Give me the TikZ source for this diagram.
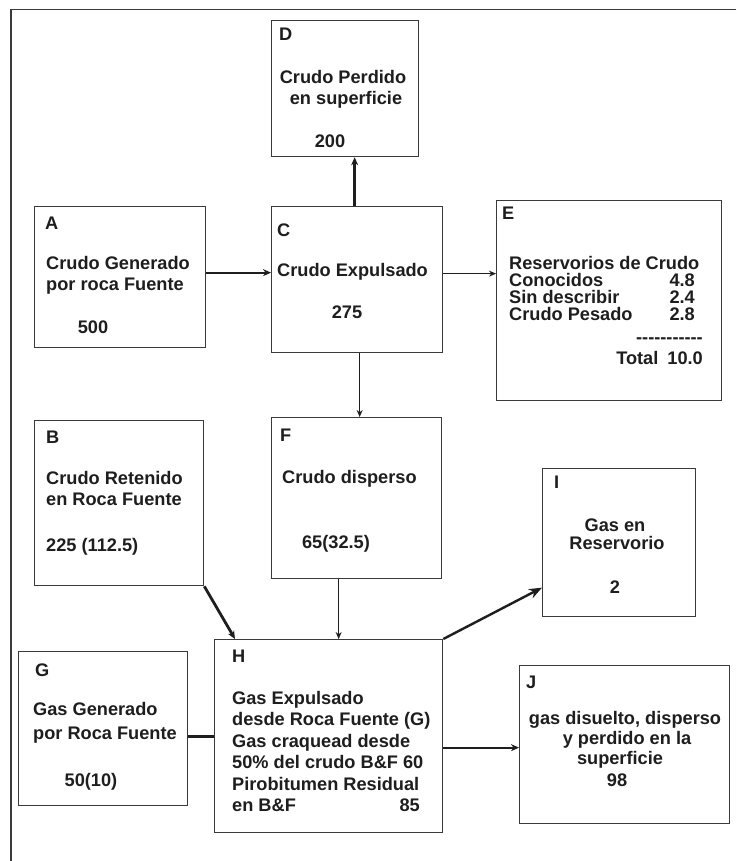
\documentclass[tikz,border=0pt]{standalone}
\usepackage{fontspec}
\setmainfont{Liberation Sans}
\usetikzlibrary{arrows.meta,calc}
\definecolor{ink}{HTML}{1E1E1E}
\definecolor{boxc}{HTML}{3A3A3A}
\newcommand{\hy}{\mbox{-}}
\begin{document}
\begin{tikzpicture}[x=1pt,y=-1pt,
  box/.style={draw=boxc,line width=1.3pt,inner sep=0pt,anchor=north west},
  txt/.style={inner sep=0pt,text=ink,font=\fontsize{18.2}{21}\selectfont\bfseries},
  tw/.style={txt,anchor=base west},
  tc/.style={txt,anchor=base},
  te/.style={txt,anchor=base east},
  thinarr/.style={draw=ink,line width=1.4pt,-{Stealth[length=7pt,width=6pt]}},
  midarr/.style={draw=ink,line width=2pt,-{Stealth[length=8pt,width=7pt]}},
  thickarr/.style={draw=ink,line width=2.8pt,-{Stealth[length=8pt,width=7pt]}},
  bigarr/.style={draw=ink,line width=2.4pt,-{Stealth[length=13pt,width=10pt]}},
  plain/.style={draw=ink,line width=2.4pt}]
\useasboundingbox (0,0) rectangle (736,861);
\fill[white] (0,0) rectangle (736,861);
% outer frame
\draw[boxc,line width=1.5pt] (736,9.5) -- (11,9.5) -- (11,861);
% boxes
\node[box,minimum width=147pt,minimum height=136pt] (D) at (271,20) {};
\node[box,minimum width=171pt,minimum height=141pt] (A) at (34,206) {};
\node[box,minimum width=171pt,minimum height=146pt] (C) at (271,206) {};
\node[box,minimum width=225pt,minimum height=200pt] (E) at (496,200) {};
\node[box,minimum width=169pt,minimum height=165pt] (B) at (34,420) {};
\node[box,minimum width=170pt,minimum height=161pt] (F) at (271,417) {};
\node[box,minimum width=153pt,minimum height=148pt] (I) at (542,468) {};
\node[box,minimum width=169pt,minimum height=154pt] (G) at (18,651) {};
\node[box,minimum width=228pt,minimum height=193pt] (H) at (214,639) {};
\node[box,minimum width=210pt,minimum height=158pt] (J) at (519,665) {};
% D
\node[tw] (dL) at (279,41) {D};
\node[tc] (d1) at (343,84) {Crudo Perdido};
\node[tc] (d2) at (346,105) {en superficie};
\node[tc] (d3) at (330,148) {200};
% A
\node[tw] (aL) at (45,229) {A};
\node[tw] (a1) at (46,269) {Crudo Generado};
\node[tw] (a2) at (46,290) {por roca Fuente};
\node[tc] (a3) at (93,333) {500};
% C
\node[tw] (cL) at (277,236) {C};
\node[tw] (c1) at (277,276) {Crudo Expulsado};
\node[tc] (c2) at (347,318) {275};
% E
\node[tw] (eL) at (502,219) {E};
\node[tw] (e1) at (509,269) {Reservorios de Crudo};
\node[tw] (e2) at (509,286) {Conocidos};
\node[te] (e2v) at (695,286) {4.8};
\node[tw] (e3) at (509,303) {Sin describir};
\node[te] (e3v) at (695,303) {2.4};
\node[tw] (e4) at (509,320) {Crudo Pesado};
\node[te] (e4v) at (695,320) {2.8};
\node[te] (e5) at (703,343) {\hy\hy\hy\hy\hy\hy\hy\hy\hy\hy\hy};
\node[te] (e6) at (703,364) {Total\hspace{9pt}10.0};
% B
\node[tw] (bL) at (46,443) {B};
\node[tw] (b1) at (46,484) {Crudo Retenido};
\node[tw] (b2) at (46,505) {en Roca Fuente};
\node[tw] (b3) at (46,551) {225 (112.5)};
% F
\node[tw] (fL) at (280,441) {F};
\node[tw] (f1) at (282,483) {Crudo disperso};
\node[tc] (f2) at (336,548) {65(32.5)};
% I
\node[tw] (iL) at (554,488) {I};
\node[tc] (i1) at (615,531) {Gas en};
\node[tc] (i2) at (617,549) {Reservorio};
\node[tc] (i3) at (615,593) {2};
% G
\node[tw] (gL) at (35,676) {G};
\node[tw] (g1) at (33,715) {Gas Generado};
\node[tw] (g2) at (33,739) {por Roca Fuente};
\node[tc] (g3) at (91,786) {50(10)};
% H
\node[tw] (hL) at (232,662) {H};
\node[tw] (h1) at (232,704) {Gas Expulsado};
\node[tw] (h2) at (232,725) {desde Roca Fuente (G)};
\node[tw] (h3) at (232,747) {Gas craquead desde};
\node[tw] (h4) at (232,768) {50\% del crudo B\&F 60};
\node[tw] (h5) at (232,790) {Pirobitumen Residual};
\node[tw] (h6) at (232,811) {en B\&F};
\node[te] (h6v) at (420,811) {85};
% J
\node[tw] (jL) at (526,688) {J};
\node[tc] (j1) at (625,724) {gas disuelto, disperso};
\node[tc] (j2) at (627,744) {y perdido en la};
\node[tc] (j3) at (620,764) {superficie};
\node[tc] (j4) at (617,786) {98};
% connectors
\draw[midarr] ([yshift=4.5pt]A.east) -- ([yshift=4.5pt]A.east -| C.west);
\draw[thickarr] ([xshift=-2.5pt]C.north) -- ([xshift=-2.5pt]C.north |- D.south);
\draw[thinarr] ([yshift=6pt]C.east) -- ([yshift=6pt]C.east -| E.west);
\draw[thinarr] ([xshift=2.5pt]C.south) -- ([xshift=2.5pt]C.south |- F.north);
\draw[thickarr] (B.south east) -- ([xshift=21pt]H.north west);
\draw[thinarr] ([xshift=-18pt]F.south) -- ([xshift=-18pt]F.south |- H.north);
\draw[bigarr] (H.north east) -- ([yshift=-45pt]I.west);
\draw[plain] ([yshift=-8pt]G.east) -- ([yshift=-8pt]G.east -| H.west);
\draw[midarr] ([yshift=-11.5pt]H.east) -- ([yshift=-11.5pt]H.east -| J.west);
\end{tikzpicture}
\end{document}
